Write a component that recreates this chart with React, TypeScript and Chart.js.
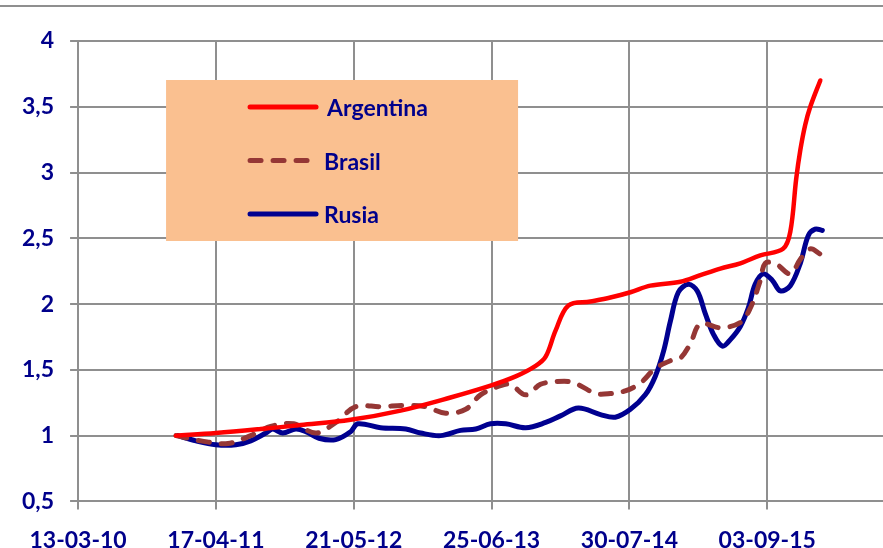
import React, { useEffect, useRef } from 'react';
import { Chart, registerables } from 'chart.js';

Chart.register(...registerables);

// x values: days elapsed since 13-03-10 (first x tick)
const xTickLabels = ['13-03-10', '17-04-11', '21-05-12', '25-06-13', '30-07-14', '03-09-15'];
const xTickStepDays = 400;
const xMaxDays = 2336;

const seriesNames = ['Argentina', 'Brasil', 'Rusia'];

const argentinaDays = [284, 400, 530, 646, 791, 936, 1081, 1197, 1270, 1328, 1357, 1386, 1423, 1487, 1545, 1603, 1661, 1748, 1806, 1864, 1922, 1980, 2046, 2067, 2084, 2096, 2110, 2125, 2154];
const argentinaValues = [1.00, 1.02, 1.05, 1.08, 1.12, 1.19, 1.29, 1.38, 1.45, 1.53, 1.60, 1.80, 1.99, 2.02, 2.05, 2.09, 2.14, 2.17, 2.22, 2.27, 2.31, 2.37, 2.42, 2.55, 2.95, 3.17, 3.36, 3.50, 3.70];

const brasilDays = [284, 357, 435, 501, 559, 626, 690, 748, 806, 878, 951, 1009, 1067, 1125, 1168, 1226, 1255, 1299, 1342, 1386, 1429, 1458, 1502, 1545, 1588, 1632, 1675, 1719, 1748, 1777, 1806, 1864, 1922, 1951, 1980, 1994, 2023, 2067, 2096, 2125, 2154];
const brasilValues = [1.00, 0.96, 0.94, 1.00, 1.07, 1.09, 1.02, 1.10, 1.22, 1.22, 1.23, 1.22, 1.17, 1.20, 1.31, 1.38, 1.39, 1.31, 1.39, 1.41, 1.41, 1.38, 1.32, 1.32, 1.34, 1.40, 1.51, 1.57, 1.59, 1.70, 1.85, 1.82, 1.86, 1.97, 2.18, 2.31, 2.31, 2.23, 2.34, 2.42, 2.38];

const rusiaDays = [290, 342, 400, 458, 501, 545, 565, 594, 632, 661, 699, 748, 791, 812, 878, 951, 994, 1052, 1110, 1154, 1197, 1241, 1299, 1357, 1400, 1452, 1516, 1559, 1603, 1646, 1675, 1699, 1719, 1742, 1771, 1797, 1820, 1844, 1870, 1893, 1922, 1945, 1965, 1988, 2015, 2038, 2067, 2096, 2119, 2139, 2160];
const rusiaValues = [1.00, 0.96, 0.93, 0.93, 0.96, 1.02, 1.05, 1.02, 1.05, 1.03, 0.98, 0.97, 1.03, 1.09, 1.06, 1.05, 1.02, 1.00, 1.04, 1.05, 1.09, 1.09, 1.06, 1.10, 1.15, 1.21, 1.16, 1.14, 1.20, 1.31, 1.45, 1.64, 1.87, 2.09, 2.15, 2.10, 1.93, 1.77, 1.68, 1.73, 1.83, 1.97, 2.15, 2.23, 2.18, 2.10, 2.14, 2.31, 2.52, 2.57, 2.56];

const TEXT = '#00008B';
const GRID = '#8F8F8F';
const FONT_FAMILY = 'Lato, "Open Sans", sans-serif';

const toPoints = (xs: number[], ys: number[]) => xs.map((x, i) => ({ x, y: ys[i] }));

const decorPlugin = {
  id: 'decor',
  beforeDraw(chart: any) {
    const { ctx, width } = chart;
    ctx.save();
    ctx.strokeStyle = GRID;
    ctx.lineWidth = 2;
    ctx.beginPath();
    ctx.moveTo(0, 6);
    ctx.lineTo(width, 6);
    ctx.stroke();
    ctx.restore();
  },
  beforeDatasetsDraw(chart: any) {
    const { ctx, chartArea } = chart;
    const x0 = chartArea.left + 88;
    const y0 = chartArea.top + 39;
    const w = 352;
    const h = 161;
    ctx.save();
    ctx.fillStyle = '#FAC090';
    ctx.fillRect(x0, y0, w, h);
    chart.data.datasets.forEach((ds: any, i: number) => {
      const y = y0 + 27 + i * 53.5;
      ctx.beginPath();
      ctx.strokeStyle = ds.borderColor;
      ctx.lineWidth = 5;
      ctx.lineCap = 'round';
      ctx.setLineDash(ds.borderDash || []);
      ctx.moveTo(x0 + 84, y);
      ctx.lineTo(x0 + 150, y);
      ctx.stroke();
      ctx.setLineDash([]);
      ctx.fillStyle = TEXT;
      ctx.font = `bold 23px ${FONT_FAMILY}`;
      ctx.textBaseline = 'middle';
      ctx.textAlign = 'left';
      ctx.fillText(ds.label, x0 + (i === 0 ? 161 : 158), y + 2);
    });
    ctx.restore();
  },
};

export default function App() {
  const ref = useRef<HTMLCanvasElement | null>(null);

  useEffect(() => {
    if (!ref.current) return;
    const tickFont = { family: FONT_FAMILY, size: 23, weight: 'bold' as const };
    const chart = new Chart(ref.current, {
      type: 'line',
      data: {
        datasets: [
          {
            label: seriesNames[0],
            data: toPoints(argentinaDays, argentinaValues),
            borderColor: '#FF0000',
            borderWidth: 4.5,
          },
          {
            label: seriesNames[1],
            data: toPoints(brasilDays, brasilValues),
            borderColor: '#953735',
            borderWidth: 5,
            borderDash: [11, 12],
          },
          {
            label: seriesNames[2],
            data: toPoints(rusiaDays, rusiaValues),
            borderColor: '#000090',
            borderWidth: 5,
          },
        ],
      },
      options: {
        animation: false,
        responsive: false,
        layout: { padding: { left: 6, top: 41, right: 0, bottom: -23 } },
        plugins: { legend: { display: false }, tooltip: { enabled: false } },
        elements: {
          point: { radius: 0 },
          line: { tension: 0.35, borderCapStyle: 'round', borderJoinStyle: 'round', fill: false },
        },
        scales: {
          x: {
            type: 'linear',
            min: 0,
            max: xMaxDays,
            afterBuildTicks: (scale: any) => {
              scale.ticks = xTickLabels.map((_, i) => ({ value: i * xTickStepDays }));
            },
            ticks: {
              autoSkip: false,
              maxRotation: 0,
              minRotation: 0,
              padding: 17,
              color: TEXT,
              font: tickFont,
              callback: (v: any) => xTickLabels[Math.round(Number(v) / xTickStepDays)] ?? '',
            },
            grid: { color: GRID, lineWidth: 2, tickLength: 8 },
            border: { color: GRID, width: 2 },
          },
          y: {
            min: 0.5,
            max: 4,
            ticks: {
              stepSize: 0.5,
              padding: 16,
              color: TEXT,
              font: tickFont,
              callback: (v: any) => String(v).replace('.', ','),
            },
            grid: { color: GRID, lineWidth: 2, tickLength: 8 },
            border: { color: GRID, width: 2 },
          },
        },
      },
      plugins: [decorPlugin],
    });
    return () => chart.destroy();
  }, []);

  return (
    <div style={{ position: 'absolute', left: 0, top: 0, width: 883, height: 548, background: '#fff', overflow: 'hidden' }}>
      <canvas ref={ref} width={883} height={548} />
    </div>
  );
}
